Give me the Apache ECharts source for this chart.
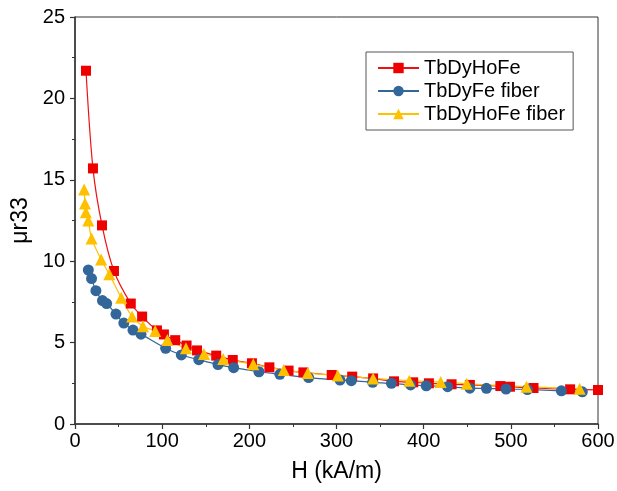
<!DOCTYPE html>
<html>
<head>
<meta charset="utf-8">
<script src="https://cdn.jsdelivr.net/npm/echarts@6/dist/echarts.min.js"></script>
<style>html,body{margin:0;padding:0;background:#fff}#c{width:617px;height:491px}</style>
</head>
<body>
<div id="c"></div>
<script>
const seriesNames = ['TbDyHoFe', 'TbDyFe fiber', 'TbDyHoFe fiber'];
const xTicks = [0, 100, 200, 300, 400, 500, 600];
const yTicks = [0, 5, 10, 15, 20, 25];

const tbdyhofeH = [12.6, 20.6, 31, 44.7, 64, 77, 94, 102, 115, 128, 140, 162, 181, 203, 223, 245, 262, 294.5, 318, 342, 366, 388, 406, 432, 453, 488, 499, 526, 568, 600];
const tbdyhofeMu = [21.7, 15.7, 12.2, 9.4, 7.4, 6.6, 5.75, 5.5, 5.15, 4.82, 4.52, 4.2, 3.93, 3.73, 3.48, 3.28, 3.17, 3.01, 2.91, 2.8, 2.62, 2.56, 2.5, 2.44, 2.4, 2.33, 2.29, 2.21, 2.13, 2.09];

const tbdyfeH = [15.3, 19, 24, 31.5, 36.3, 47, 56, 66.5, 75.7, 104, 122, 142, 164, 182, 211, 235, 268, 304, 317, 341.5, 363, 385, 403, 427.5, 453, 472, 494.5, 519, 558, 582];
const tbdyfeMu = [9.46, 8.93, 8.19, 7.58, 7.4, 6.75, 6.2, 5.77, 5.52, 4.65, 4.24, 3.95, 3.65, 3.46, 3.21, 3.05, 2.85, 2.7, 2.66, 2.56, 2.5, 2.4, 2.35, 2.29, 2.2, 2.19, 2.15, 2.12, 2.04, 1.98];

const fiberH = [10.5, 11.5, 12.5, 15.3, 19, 30, 39.4, 53, 65.5, 78, 92, 106, 127.3, 148, 170, 204.5, 239.5, 267, 301.5, 342, 383.5, 419.5, 449.5, 518, 579];
const fiberMu = [14.4, 13.55, 13.0, 12.5, 11.4, 10.1, 9.2, 7.75, 6.6, 6.0, 5.71, 5.16, 4.65, 4.3, 4.0, 3.67, 3.32, 3.13, 2.98, 2.8, 2.66, 2.58, 2.47, 2.29, 2.17];

const pair = (xs, ys) => xs.map((x, i) => [x, ys[i]]);

const chart = echarts.init(document.getElementById('c'), null, {renderer: 'canvas'});
const font = 'Liberation Sans, Arial, sans-serif';
chart.setOption({
  animation: false,
  backgroundColor: '#fff',
  grid: {left: 75, right: 19, top: 17, bottom: 67, containLabel: false, outerBoundsMode: 'none',
    show: true, borderColor: '#333', borderWidth: 1, backgroundColor: 'transparent'},
  legend: {
    orient: 'vertical', left: 366, top: 52,
    padding: [6, 8, 6, 11],
    itemWidth: 41, itemHeight: 13, itemGap: 3,
    borderColor: '#555', borderWidth: 1,
    textStyle: {fontFamily: font, fontSize: 20, color: '#000', lineHeight: 20},
    data: seriesNames
  },
  xAxis: {
    type: 'value', min: 0, max: 600, interval: 100,
    name: 'H (kA/m)', nameLocation: 'middle', nameGap: 36,
    nameTextStyle: {fontFamily: font, fontSize: 23, color: '#000'},
    axisLine: {show: true, lineStyle: {color: '#333', width: 1.5}},
    axisTick: {show: true, inside: false, length: 5, lineStyle: {color: '#333', width: 1.2}},
    minorTick: {show: true, splitNumber: 2, length: 3, lineStyle: {color: '#333', width: 1}},
    splitLine: {show: false},
    axisLabel: {fontFamily: font, fontSize: 20, color: '#000', margin: 7,
      customValues: xTicks, formatter: v => String(v)}
  },
  yAxis: {
    type: 'value', min: 0, max: 25, interval: 5,
    name: 'μr33', nameLocation: 'middle', nameGap: 42, nameRotate: 90,
    nameTextStyle: {fontFamily: font, fontSize: 23, color: '#000'},
    axisLine: {show: true, lineStyle: {color: '#333', width: 1.5}},
    axisTick: {show: true, inside: false, length: 5, lineStyle: {color: '#333', width: 1.2}},
    minorTick: {show: true, splitNumber: 2, length: 3, lineStyle: {color: '#333', width: 1}},
    splitLine: {show: false},
    axisLabel: {fontFamily: font, fontSize: 20, color: '#000', margin: 10,
      customValues: yTicks, formatter: v => String(v)}
  },
  series: [
    {
      name: seriesNames[0], type: 'line', smooth: 0.3,
      data: pair(tbdyhofeH, tbdyhofeMu),
      symbol: 'rect', symbolSize: 10,
      itemStyle: {color: '#ee0000'},
      lineStyle: {color: '#ee1111', width: 1.2}
    },
    {
      name: seriesNames[1], type: 'line', smooth: 0.3,
      data: pair(tbdyfeH, tbdyfeMu),
      symbol: 'circle', symbolSize: 11,
      itemStyle: {color: '#336699'},
      lineStyle: {color: '#336699', width: 1.2}
    },
    {
      name: seriesNames[2], type: 'line', smooth: 0.3,
      data: pair(fiberH, fiberMu),
      symbol: 'triangle', symbolSize: 12,
      itemStyle: {color: '#ffc000'},
      lineStyle: {color: '#ffc000', width: 1.2}
    }
  ]
});
</script>
</body>
</html>
